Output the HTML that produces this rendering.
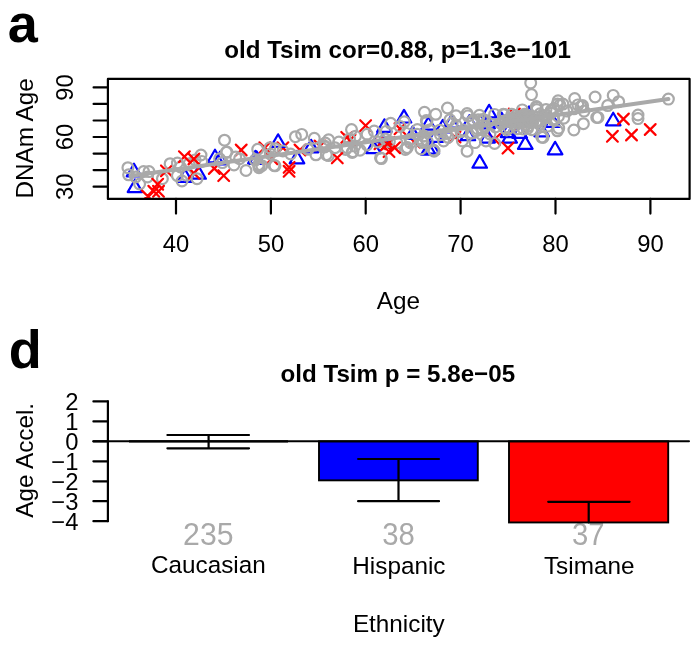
<!DOCTYPE html>
<html><head><meta charset="utf-8"><title>figure</title>
<style>
html,body{margin:0;padding:0;background:#fff}
body{width:700px;height:646px;overflow:hidden}
svg{display:block}
text{font-family:"Liberation Sans",Arial,Helvetica,sans-serif;fill:#000}
.t{font-size:24.3px}
.a{font-size:23.8px}
.m{text-anchor:middle}
.e{text-anchor:end}
.h{font-weight:bold;font-size:24.3px;text-anchor:middle}
.L{font-weight:bold;font-size:54px}
.n{font-size:32px;fill:#a9a9a9;text-anchor:middle}
.k{stroke:#000;stroke-width:2.2;fill:none;stroke-linecap:round;stroke-linejoin:round}
.g{stroke:#a9a9a9;stroke-width:2.2;fill:none;stroke-linecap:round;stroke-linejoin:round}
.b{stroke:#0000ff;stroke-width:2.2;fill:none;stroke-linejoin:round}
.r{stroke:#ff0000;stroke-width:2.2;fill:none;stroke-linecap:round;stroke-linejoin:round}
</style></head>
<body>
<svg width="700" height="646" viewBox="0 0 700 646">
<rect width="700" height="646" fill="#fff"/>
<defs><clipPath id="c1"><rect x="107.9" y="78.9" width="581.7" height="120.04999999999998"/></clipPath></defs>

<!-- panel a -->
<text x="7.8" y="41.9" class="L">a</text>
<text x="397.6" y="58.2" class="h" textLength="346.8" lengthAdjust="spacingAndGlyphs">old Tsim cor=0.88, p=1.3e−101</text>
<g clip-path="url(#c1)">
<path d="M508.9 108.6L519.7 119.4M508.9 119.4L519.7 108.6" class="r"/>
<path d="M489.2 134.0L500.0 144.8M489.2 144.8L500.0 134.0" class="r"/>
<path d="M235.8 144.6L246.6 155.4M235.8 155.4L246.6 144.6" class="r"/>
<path d="M449.6 131.6L460.4 142.4M449.6 142.4L460.4 131.6" class="r"/>
<path d="M259.4 142.3L270.2 153.1M259.4 153.1L270.2 142.3" class="r"/>
<path d="M383.6 137.1L394.4 147.9M383.6 147.9L394.4 137.1" class="r"/>
<path d="M344.6 134.6L355.4 145.4M344.6 145.4L355.4 134.6" class="r"/>
<path d="M408.9 136.7L419.7 147.5M408.9 147.5L419.7 136.7" class="r"/>
<path d="M314.6 140.6L325.4 151.4M314.6 151.4L325.4 140.6" class="r"/>
<path d="M294.6 144.6L305.4 155.4M294.6 155.4L305.4 144.6" class="r"/>
<path d="M374.6 138.3L385.4 149.1M374.6 149.1L385.4 138.3" class="r"/>
<path d="M514.6 120.6L525.4 131.4M514.6 131.4L525.4 120.6" class="r"/>
<path d="M266.5 153.3L277.3 164.1M266.5 164.1L277.3 153.3" class="r"/>
<path d="M208.9 163.1L219.7 173.9M208.9 173.9L219.7 163.1" class="r"/>
<path d="M394.6 123.4L405.4 134.2M394.6 134.2L405.4 123.4" class="r"/>
<path d="M277.5 142.3L288.3 153.1M277.5 153.1L288.3 142.3" class="r"/>
<path d="M380.6 139.6L391.4 150.4M380.6 150.4L391.4 139.6" class="r"/>
<path d="M134.0 163.7L141.3 176.3L126.7 176.3Z" class="b"/>
<path d="M135.0 179.5L142.3 192.1L127.7 192.1Z" class="b"/>
<path d="M185.0 169.3L192.3 181.9L177.7 181.9Z" class="b"/>
<path d="M198.6 166.1L205.9 178.7L191.3 178.7Z" class="b"/>
<path d="M215.0 149.7L222.3 162.3L207.7 162.3Z" class="b"/>
<path d="M256.6 151.4L263.9 164.0L249.3 164.0Z" class="b"/>
<path d="M278.1 134.3L285.4 146.9L270.8 146.9Z" class="b"/>
<path d="M255.4 150.8L262.7 163.4L248.1 163.4Z" class="b"/>
<path d="M311.1 139.8L318.4 152.4L303.8 152.4Z" class="b"/>
<path d="M297.0 150.8L304.3 163.4L289.7 163.4Z" class="b"/>
<path d="M220.0 151.7L227.3 164.3L212.7 164.3Z" class="b"/>
<path d="M404.0 109.9L411.3 122.5L396.7 122.5Z" class="b"/>
<path d="M384.4 119.3L391.7 131.9L377.1 131.9Z" class="b"/>
<path d="M373.4 140.6L380.7 153.2L366.1 153.2Z" class="b"/>
<path d="M412.7 126.4L420.0 139.0L405.4 139.0Z" class="b"/>
<path d="M428.4 117.0L435.7 129.6L421.1 129.6Z" class="b"/>
<path d="M428.4 142.1L435.7 154.7L421.1 154.7Z" class="b"/>
<path d="M379.7 129.6L387.0 142.2L372.4 142.2Z" class="b"/>
<path d="M489.1 104.8L496.4 117.4L481.8 117.4Z" class="b"/>
<path d="M479.7 155.1L487.0 167.7L472.4 167.7Z" class="b"/>
<path d="M442.8 119.8L450.1 132.4L435.5 132.4Z" class="b"/>
<path d="M501.7 112.7L509.0 125.3L494.4 125.3Z" class="b"/>
<path d="M467.9 127.6L475.2 140.2L460.6 140.2Z" class="b"/>
<path d="M509.6 130.0L516.9 142.6L502.3 142.6Z" class="b"/>
<path d="M508.0 124.5L515.3 137.1L500.7 137.1Z" class="b"/>
<path d="M431.8 141.0L439.1 153.6L424.5 153.6Z" class="b"/>
<path d="M525.3 136.3L532.6 148.9L518.0 148.9Z" class="b"/>
<path d="M487.6 115.8L494.9 128.4L480.3 128.4Z" class="b"/>
<path d="M451.4 115.1L458.7 127.7L444.1 127.7Z" class="b"/>
<path d="M469.5 115.1L476.8 127.7L462.2 127.7Z" class="b"/>
<path d="M435.7 129.2L443.0 141.8L428.4 141.8Z" class="b"/>
<path d="M487.6 130.0L494.9 142.6L480.3 142.6Z" class="b"/>
<path d="M613.2 112.7L620.5 125.3L605.9 125.3Z" class="b"/>
<path d="M555.1 141.8L562.4 154.4L547.8 154.4Z" class="b"/>
<path d="M552.7 114.3L560.0 126.9L545.4 126.9Z" class="b"/>
<path d="M541.7 123.7L549.0 136.3L534.4 136.3Z" class="b"/>
<path d="M529.1 106.4L536.4 119.0L521.8 119.0Z" class="b"/>
<path d="M519.7 125.3L527.0 137.9L512.4 137.9Z" class="b"/>
<circle cx="530.7" cy="82.9" r="5.4" class="g"/>
<circle cx="525.4" cy="122.1" r="5.4" class="g"/>
<circle cx="537.0" cy="107.2" r="5.4" class="g"/>
<circle cx="290.7" cy="154.0" r="5.4" class="g"/>
<circle cx="607.7" cy="105.6" r="5.4" class="g"/>
<circle cx="345.6" cy="149.4" r="5.4" class="g"/>
<circle cx="405.4" cy="149.4" r="5.4" class="g"/>
<circle cx="328.4" cy="155.6" r="5.4" class="g"/>
<circle cx="162.4" cy="178.7" r="5.4" class="g"/>
<circle cx="435.7" cy="114.3" r="5.4" class="g"/>
<circle cx="520.0" cy="120.2" r="5.4" class="g"/>
<circle cx="275.0" cy="165.8" r="5.4" class="g"/>
<circle cx="523.5" cy="129.1" r="5.4" class="g"/>
<circle cx="235.7" cy="157.0" r="5.4" class="g"/>
<circle cx="270.3" cy="154.0" r="5.4" class="g"/>
<circle cx="274.0" cy="165.4" r="5.4" class="g"/>
<circle cx="520.2" cy="120.8" r="5.4" class="g"/>
<circle cx="525.8" cy="119.0" r="5.4" class="g"/>
<circle cx="423.5" cy="136.1" r="5.4" class="g"/>
<circle cx="258.5" cy="164.8" r="5.4" class="g"/>
<circle cx="473.0" cy="120.1" r="5.4" class="g"/>
<circle cx="538.6" cy="120.6" r="5.4" class="g"/>
<circle cx="472.4" cy="121.0" r="5.4" class="g"/>
<circle cx="559.9" cy="104.9" r="5.4" class="g"/>
<circle cx="374.2" cy="131.1" r="5.4" class="g"/>
<circle cx="527.6" cy="128.4" r="5.4" class="g"/>
<circle cx="504.8" cy="127.9" r="5.4" class="g"/>
<circle cx="417.0" cy="134.2" r="5.4" class="g"/>
<circle cx="390.7" cy="123.3" r="5.4" class="g"/>
<circle cx="518.5" cy="116.8" r="5.4" class="g"/>
<circle cx="380.5" cy="157.9" r="5.4" class="g"/>
<circle cx="482.9" cy="130.0" r="5.4" class="g"/>
<circle cx="407.0" cy="147.7" r="5.4" class="g"/>
<circle cx="434.1" cy="151.2" r="5.4" class="g"/>
<circle cx="598.0" cy="117.4" r="5.4" class="g"/>
<circle cx="259.3" cy="165.8" r="5.4" class="g"/>
<circle cx="410.0" cy="139.5" r="5.4" class="g"/>
<circle cx="668.4" cy="99.1" r="5.4" class="g"/>
<circle cx="385.5" cy="139.1" r="5.4" class="g"/>
<circle cx="476.5" cy="130.7" r="5.4" class="g"/>
<circle cx="520.6" cy="117.4" r="5.4" class="g"/>
<circle cx="222.4" cy="162.6" r="5.4" class="g"/>
<circle cx="201.7" cy="161.4" r="5.4" class="g"/>
<circle cx="426.3" cy="120.6" r="5.4" class="g"/>
<circle cx="573.9" cy="130.0" r="5.4" class="g"/>
<circle cx="516.0" cy="117.7" r="5.4" class="g"/>
<circle cx="540.0" cy="124.6" r="5.4" class="g"/>
<circle cx="224.5" cy="140.2" r="5.4" class="g"/>
<circle cx="315.9" cy="154.8" r="5.4" class="g"/>
<circle cx="451.4" cy="133.1" r="5.4" class="g"/>
<circle cx="506.8" cy="129.9" r="5.4" class="g"/>
<circle cx="462.4" cy="141.0" r="5.4" class="g"/>
<circle cx="518.2" cy="122.1" r="5.4" class="g"/>
<circle cx="583.4" cy="123.7" r="5.4" class="g"/>
<circle cx="553.7" cy="118.9" r="5.4" class="g"/>
<circle cx="269.9" cy="147.8" r="5.4" class="g"/>
<circle cx="386.2" cy="131.4" r="5.4" class="g"/>
<circle cx="509.2" cy="127.9" r="5.4" class="g"/>
<circle cx="525.3" cy="125.0" r="5.4" class="g"/>
<circle cx="529.2" cy="120.0" r="5.4" class="g"/>
<circle cx="147.5" cy="177.0" r="5.4" class="g"/>
<circle cx="421.0" cy="149.0" r="5.4" class="g"/>
<circle cx="449.9" cy="119.8" r="5.4" class="g"/>
<circle cx="546.0" cy="109.5" r="5.4" class="g"/>
<circle cx="397.0" cy="142.9" r="5.4" class="g"/>
<circle cx="529.3" cy="116.6" r="5.4" class="g"/>
<circle cx="557.4" cy="130.8" r="5.4" class="g"/>
<circle cx="563.7" cy="118.2" r="5.4" class="g"/>
<circle cx="485.2" cy="126.2" r="5.4" class="g"/>
<circle cx="504.3" cy="114.6" r="5.4" class="g"/>
<circle cx="540.2" cy="123.9" r="5.4" class="g"/>
<circle cx="524.4" cy="114.3" r="5.4" class="g"/>
<circle cx="275.4" cy="148.7" r="5.4" class="g"/>
<circle cx="546.5" cy="117.8" r="5.4" class="g"/>
<circle cx="543.0" cy="137.4" r="5.4" class="g"/>
<circle cx="439.8" cy="130.2" r="5.4" class="g"/>
<circle cx="618.7" cy="101.7" r="5.4" class="g"/>
<circle cx="467.1" cy="113.5" r="5.4" class="g"/>
<circle cx="508.3" cy="120.8" r="5.4" class="g"/>
<circle cx="404.3" cy="121.8" r="5.4" class="g"/>
<circle cx="352.9" cy="151.7" r="5.4" class="g"/>
<circle cx="529.3" cy="116.5" r="5.4" class="g"/>
<circle cx="517.7" cy="123.1" r="5.4" class="g"/>
<circle cx="170.1" cy="163.7" r="5.4" class="g"/>
<circle cx="514.4" cy="121.9" r="5.4" class="g"/>
<circle cx="577.9" cy="104.9" r="5.4" class="g"/>
<circle cx="554.0" cy="108.4" r="5.4" class="g"/>
<circle cx="261.8" cy="165.7" r="5.4" class="g"/>
<circle cx="573.9" cy="108.8" r="5.4" class="g"/>
<circle cx="558.7" cy="128.2" r="5.4" class="g"/>
<circle cx="574.7" cy="98.6" r="5.4" class="g"/>
<circle cx="186.5" cy="175.1" r="5.4" class="g"/>
<circle cx="479.4" cy="115.3" r="5.4" class="g"/>
<path d="M283.7 165.9L294.5 176.7M283.7 176.7L294.5 165.9" class="r"/>
<circle cx="282.9" cy="150.9" r="5.4" class="g"/>
<circle cx="149.0" cy="171.6" r="5.4" class="g"/>
<circle cx="484.3" cy="119.9" r="5.4" class="g"/>
<circle cx="314.3" cy="138.3" r="5.4" class="g"/>
<circle cx="523.9" cy="119.9" r="5.4" class="g"/>
<circle cx="481.9" cy="128.4" r="5.4" class="g"/>
<circle cx="456.1" cy="115.8" r="5.4" class="g"/>
<circle cx="447.5" cy="108.0" r="5.4" class="g"/>
<path d="M341.3 132.0L352.1 142.8M341.3 142.8L352.1 132.0" class="r"/>
<circle cx="536.8" cy="109.5" r="5.4" class="g"/>
<circle cx="139.6" cy="184.0" r="5.4" class="g"/>
<circle cx="557.4" cy="104.1" r="5.4" class="g"/>
<circle cx="478.1" cy="119.8" r="5.4" class="g"/>
<path d="M389.2 142.3L400.0 153.1M389.2 153.1L400.0 142.3" class="r"/>
<circle cx="460.9" cy="131.6" r="5.4" class="g"/>
<circle cx="526.9" cy="115.9" r="5.4" class="g"/>
<circle cx="308.0" cy="149.3" r="5.4" class="g"/>
<circle cx="195.2" cy="159.9" r="5.4" class="g"/>
<circle cx="234.0" cy="165.0" r="5.4" class="g"/>
<circle cx="417.4" cy="129.6" r="5.4" class="g"/>
<circle cx="246.0" cy="170.5" r="5.4" class="g"/>
<circle cx="355.5" cy="136.3" r="5.4" class="g"/>
<circle cx="360.0" cy="150.2" r="5.4" class="g"/>
<circle cx="484.3" cy="126.7" r="5.4" class="g"/>
<circle cx="532.1" cy="119.6" r="5.4" class="g"/>
<circle cx="504.9" cy="122.1" r="5.4" class="g"/>
<circle cx="463.5" cy="130.1" r="5.4" class="g"/>
<circle cx="638.0" cy="118.6" r="5.4" class="g"/>
<circle cx="508.7" cy="119.4" r="5.4" class="g"/>
<circle cx="581.0" cy="106.4" r="5.4" class="g"/>
<circle cx="338.9" cy="142.1" r="5.4" class="g"/>
<circle cx="295.4" cy="136.7" r="5.4" class="g"/>
<path d="M283.7 162.0L294.5 172.8M283.7 172.8L294.5 162.0" class="r"/>
<circle cx="511.9" cy="114.3" r="5.4" class="g"/>
<circle cx="400.0" cy="126.4" r="5.4" class="g"/>
<path d="M188.5 167.8L199.3 178.6M188.5 178.6L199.3 167.8" class="r"/>
<circle cx="180.5" cy="167.0" r="5.4" class="g"/>
<path d="M153.1 185.9L163.9 196.7M153.1 196.7L163.9 185.9" class="r"/>
<circle cx="424.5" cy="112.3" r="5.4" class="g"/>
<circle cx="226.9" cy="152.0" r="5.4" class="g"/>
<circle cx="407.2" cy="147.6" r="5.4" class="g"/>
<path d="M607.0 130.9L617.8 141.7M607.0 141.7L617.8 130.9" class="r"/>
<circle cx="475.0" cy="142.6" r="5.4" class="g"/>
<circle cx="467.9" cy="115.9" r="5.4" class="g"/>
<circle cx="426.9" cy="121.7" r="5.4" class="g"/>
<circle cx="189.0" cy="163.8" r="5.4" class="g"/>
<circle cx="531.5" cy="94.6" r="5.4" class="g"/>
<circle cx="427.2" cy="141.3" r="5.4" class="g"/>
<circle cx="127.9" cy="167.7" r="5.4" class="g"/>
<circle cx="197.0" cy="178.7" r="5.4" class="g"/>
<circle cx="562.9" cy="104.1" r="5.4" class="g"/>
<circle cx="367.0" cy="145.0" r="5.4" class="g"/>
<circle cx="542.3" cy="115.5" r="5.4" class="g"/>
<path d="M161.0 165.5L171.8 176.3M161.0 176.3L171.8 165.5" class="r"/>
<circle cx="328.6" cy="139.8" r="5.4" class="g"/>
<circle cx="520.6" cy="117.0" r="5.4" class="g"/>
<path d="M626.1 129.6L636.9 140.4M626.1 140.4L636.9 129.6" class="r"/>
<circle cx="257.7" cy="149.3" r="5.4" class="g"/>
<circle cx="495.4" cy="126.9" r="5.4" class="g"/>
<circle cx="489.9" cy="133.9" r="5.4" class="g"/>
<circle cx="351.5" cy="129.6" r="5.4" class="g"/>
<circle cx="530.8" cy="122.3" r="5.4" class="g"/>
<circle cx="515.7" cy="115.9" r="5.4" class="g"/>
<circle cx="501.1" cy="123.7" r="5.4" class="g"/>
<circle cx="540.0" cy="113.8" r="5.4" class="g"/>
<circle cx="433.4" cy="150.0" r="5.4" class="g"/>
<path d="M644.8 124.1L655.6 134.9M644.8 134.9L655.6 124.1" class="r"/>
<circle cx="135.7" cy="177.0" r="5.4" class="g"/>
<circle cx="551.2" cy="110.3" r="5.4" class="g"/>
<circle cx="446.1" cy="133.6" r="5.4" class="g"/>
<circle cx="301.7" cy="134.4" r="5.4" class="g"/>
<circle cx="440.4" cy="134.7" r="5.4" class="g"/>
<circle cx="529.3" cy="118.0" r="5.4" class="g"/>
<circle cx="530.1" cy="117.9" r="5.4" class="g"/>
<circle cx="467.1" cy="151.2" r="5.4" class="g"/>
<circle cx="536.4" cy="121.2" r="5.4" class="g"/>
<circle cx="521.3" cy="122.1" r="5.4" class="g"/>
<circle cx="558.4" cy="116.4" r="5.4" class="g"/>
<circle cx="324.8" cy="146.9" r="5.4" class="g"/>
<path d="M360.2 120.2L371.0 131.0M360.2 131.0L371.0 120.2" class="r"/>
<circle cx="349.5" cy="139.0" r="5.4" class="g"/>
<circle cx="566.9" cy="111.1" r="5.4" class="g"/>
<path d="M179.0 151.3L189.8 162.1M179.0 162.1L189.8 151.3" class="r"/>
<circle cx="352.2" cy="152.4" r="5.4" class="g"/>
<circle cx="177.4" cy="175.6" r="5.4" class="g"/>
<circle cx="423.8" cy="135.9" r="5.4" class="g"/>
<circle cx="482.5" cy="119.6" r="5.4" class="g"/>
<circle cx="638.0" cy="115.0" r="5.4" class="g"/>
<circle cx="259.0" cy="167.7" r="5.4" class="g"/>
<circle cx="389.4" cy="141.6" r="5.4" class="g"/>
<circle cx="543.8" cy="117.1" r="5.4" class="g"/>
<circle cx="494.6" cy="114.4" r="5.4" class="g"/>
<path d="M142.1 190.6L152.9 201.4M142.1 201.4L152.9 190.6" class="r"/>
<circle cx="201.0" cy="155.0" r="5.4" class="g"/>
<circle cx="584.1" cy="111.1" r="5.4" class="g"/>
<circle cx="546.4" cy="115.9" r="5.4" class="g"/>
<circle cx="143.6" cy="171.6" r="5.4" class="g"/>
<circle cx="505.6" cy="120.4" r="5.4" class="g"/>
<path d="M218.3 170.2L229.1 181.0M218.3 181.0L229.1 170.2" class="r"/>
<circle cx="406.3" cy="133.4" r="5.4" class="g"/>
<circle cx="527.9" cy="126.1" r="5.4" class="g"/>
<path d="M188.5 153.6L199.3 164.4M188.5 164.4L199.3 153.6" class="r"/>
<circle cx="503.3" cy="114.3" r="5.4" class="g"/>
<circle cx="541.7" cy="137.1" r="5.4" class="g"/>
<path d="M383.6 146.2L394.4 157.0M383.6 157.0L394.4 146.2" class="r"/>
<circle cx="452.2" cy="123.1" r="5.4" class="g"/>
<path d="M502.6 142.7L513.4 153.5M502.6 153.5L513.4 142.7" class="r"/>
<circle cx="512.7" cy="120.6" r="5.4" class="g"/>
<circle cx="511.8" cy="121.7" r="5.4" class="g"/>
<circle cx="324.0" cy="145.7" r="5.4" class="g"/>
<circle cx="367.1" cy="134.3" r="5.4" class="g"/>
<path d="M148.4 185.9L159.2 196.7M148.4 196.7L159.2 185.9" class="r"/>
<circle cx="448.0" cy="137.3" r="5.4" class="g"/>
<path d="M331.9 152.5L342.7 163.3M331.9 163.3L342.7 152.5" class="r"/>
<circle cx="429.4" cy="130.0" r="5.4" class="g"/>
<circle cx="477.4" cy="128.6" r="5.4" class="g"/>
<circle cx="347.1" cy="147.6" r="5.4" class="g"/>
<circle cx="177.4" cy="163.0" r="5.4" class="g"/>
<circle cx="443.6" cy="141.0" r="5.4" class="g"/>
<circle cx="595.1" cy="97.0" r="5.4" class="g"/>
<circle cx="613.2" cy="95.4" r="5.4" class="g"/>
<circle cx="494.6" cy="143.4" r="5.4" class="g"/>
<circle cx="226.3" cy="152.4" r="5.4" class="g"/>
<circle cx="326.3" cy="154.7" r="5.4" class="g"/>
<circle cx="522.3" cy="109.9" r="5.4" class="g"/>
<circle cx="553.6" cy="120.1" r="5.4" class="g"/>
<circle cx="596.7" cy="117.4" r="5.4" class="g"/>
<circle cx="325.3" cy="143.0" r="5.4" class="g"/>
<circle cx="410.3" cy="142.7" r="5.4" class="g"/>
<circle cx="523.4" cy="116.2" r="5.4" class="g"/>
<circle cx="128.6" cy="174.8" r="5.4" class="g"/>
<circle cx="523.1" cy="122.1" r="5.4" class="g"/>
<circle cx="539.0" cy="121.7" r="5.4" class="g"/>
<circle cx="378.0" cy="142.0" r="5.4" class="g"/>
<circle cx="182.0" cy="181.0" r="5.4" class="g"/>
<path d="M618.0 113.6L628.8 124.4M618.0 124.4L628.8 113.6" class="r"/>
<circle cx="471.9" cy="133.1" r="5.4" class="g"/>
<circle cx="525.4" cy="121.7" r="5.4" class="g"/>
<circle cx="255.2" cy="160.1" r="5.4" class="g"/>
<circle cx="532.7" cy="122.5" r="5.4" class="g"/>
<circle cx="547.7" cy="126.1" r="5.4" class="g"/>
<circle cx="515.2" cy="125.3" r="5.4" class="g"/>
<circle cx="530.0" cy="120.4" r="5.4" class="g"/>
<circle cx="423.1" cy="142.6" r="5.4" class="g"/>
<circle cx="558.1" cy="100.8" r="5.4" class="g"/>
<circle cx="531.8" cy="129.7" r="5.4" class="g"/>
<circle cx="517.8" cy="128.8" r="5.4" class="g"/>
<circle cx="530.7" cy="122.1" r="5.4" class="g"/>
<circle cx="381.4" cy="158.6" r="5.4" class="g"/>
<circle cx="500.7" cy="123.0" r="5.4" class="g"/>
<circle cx="239.6" cy="158.7" r="5.4" class="g"/>
<circle cx="512.4" cy="119.5" r="5.4" class="g"/>
<circle cx="422.1" cy="140.6" r="5.4" class="g"/>
<circle cx="219.6" cy="158.8" r="5.4" class="g"/>
<circle cx="335.0" cy="147.7" r="5.4" class="g"/>
<circle cx="354.8" cy="146.1" r="5.4" class="g"/>
<path d="M382.2 138.3L393.0 149.1M382.2 149.1L393.0 138.3" class="r"/>
<path d="M152.3 178.8L163.1 189.6M152.3 189.6L163.1 178.8" class="r"/>
<circle cx="551.2" cy="113.0" r="5.4" class="g"/>
<circle cx="486.0" cy="141.0" r="5.4" class="g"/>
<circle cx="456.1" cy="125.3" r="5.4" class="g"/>
<circle cx="536.3" cy="106.6" r="5.4" class="g"/>
<circle cx="582.6" cy="105.6" r="5.4" class="g"/>
<path d="M130.5 176.0L668.4 99.1" stroke="#a9a9a9" stroke-width="4" fill="none" stroke-linecap="round"/>
</g>
<rect x="107.9" y="78.9" width="581.7" height="120.04999999999998" class="k"/>
<path d="M176.0 198.95V213.6" class="k"/><path d="M270.9 198.95V213.6" class="k"/><path d="M365.7 198.95V213.6" class="k"/><path d="M460.6 198.95V213.6" class="k"/><path d="M555.5 198.95V213.6" class="k"/><path d="M650.4 198.95V213.6" class="k"/>
<path d="M107.9 186.7H93.6" class="k"/><path d="M107.9 170.1H93.6" class="k"/><path d="M107.9 153.6H93.6" class="k"/><path d="M107.9 137.0H93.6" class="k"/><path d="M107.9 120.5H93.6" class="k"/><path d="M107.9 103.9H93.6" class="k"/><path d="M107.9 87.4H93.6" class="k"/>
<text x="176.0" y="251.6" class="a m">40</text><text x="270.9" y="251.6" class="a m">50</text><text x="365.7" y="251.6" class="a m">60</text><text x="460.6" y="251.6" class="a m">70</text><text x="555.5" y="251.6" class="a m">80</text><text x="650.4" y="251.6" class="a m">90</text>
<text transform="translate(72.8 186.7) rotate(-90)" class="a m">30</text><text transform="translate(72.8 137.0) rotate(-90)" class="a m">60</text><text transform="translate(72.8 87.4) rotate(-90)" class="a m">90</text>
<text x="398.4" y="309.1" class="t m">Age</text>
<text transform="translate(33.4 138.4) rotate(-90)" class="t m">DNAm Age</text>

<!-- panel d -->
<text x="8.85" y="368" class="L">d</text>
<text x="397.8" y="382" class="h" textLength="234.6" lengthAdjust="spacingAndGlyphs">old Tsim p = 5.8e−05</text>
<text x="208.3" y="544.9" class="n" textLength="50.4" lengthAdjust="spacingAndGlyphs">235</text>
<text x="398.6" y="544.9" class="n" textLength="32.6" lengthAdjust="spacingAndGlyphs">38</text>
<text x="588.2" y="544.9" class="n" textLength="32.6" lengthAdjust="spacingAndGlyphs">37</text>
<path d="M129 441.35H288" stroke="#000" stroke-width="2.4" fill="none"/>
<rect x="319" y="441.35" width="158.8" height="39" fill="#0000ff" stroke="#000" stroke-width="1.9"/>
<rect x="509" y="441.35" width="159.2" height="81.1" fill="#ff0000" stroke="#000" stroke-width="1.9"/>
<path d="M93.4 441.35H689" class="k" style="stroke-width:2"/>
<path d="M107.9 401.4V521.2" class="k"/>
<path d="M107.9 401.4H93.4" class="k"/><path d="M107.9 421.4H93.4" class="k"/><path d="M107.9 441.4H93.4" class="k"/><path d="M107.9 461.3H93.4" class="k"/><path d="M107.9 481.3H93.4" class="k"/><path d="M107.9 501.2H93.4" class="k"/><path d="M107.9 521.2H93.4" class="k"/>
<text x="78.4" y="410.1" class="a e">2</text><text x="78.4" y="430.1" class="a e">1</text><text x="78.4" y="450.1" class="a e">0</text><text x="78.4" y="470.0" class="a e">−1</text><text x="78.4" y="490.0" class="a e">−2</text><text x="78.4" y="509.9" class="a e">−3</text><text x="78.4" y="529.9" class="a e">−4</text>
<path d="M167.4 435H249M167.4 448.3H249M208.6 435V448.3" class="k"/>
<path d="M358.1 459H439M358.1 501.2H439M398.5 459V501.2" class="k"/>
<path d="M548.2 501.8H629.6M588.7 501.8V522.4" class="k"/>
<text transform="translate(33.4 460.3) rotate(-90)" class="t m">Age Accel.</text>
<text x="208.4" y="573.4" class="t m">Caucasian</text>
<text x="398.9" y="573.5" class="t m">Hispanic</text>
<text x="589.2" y="573.6" class="t m">Tsimane</text>
<text x="398.8" y="632" class="t m">Ethnicity</text>
</svg>
</body></html>
